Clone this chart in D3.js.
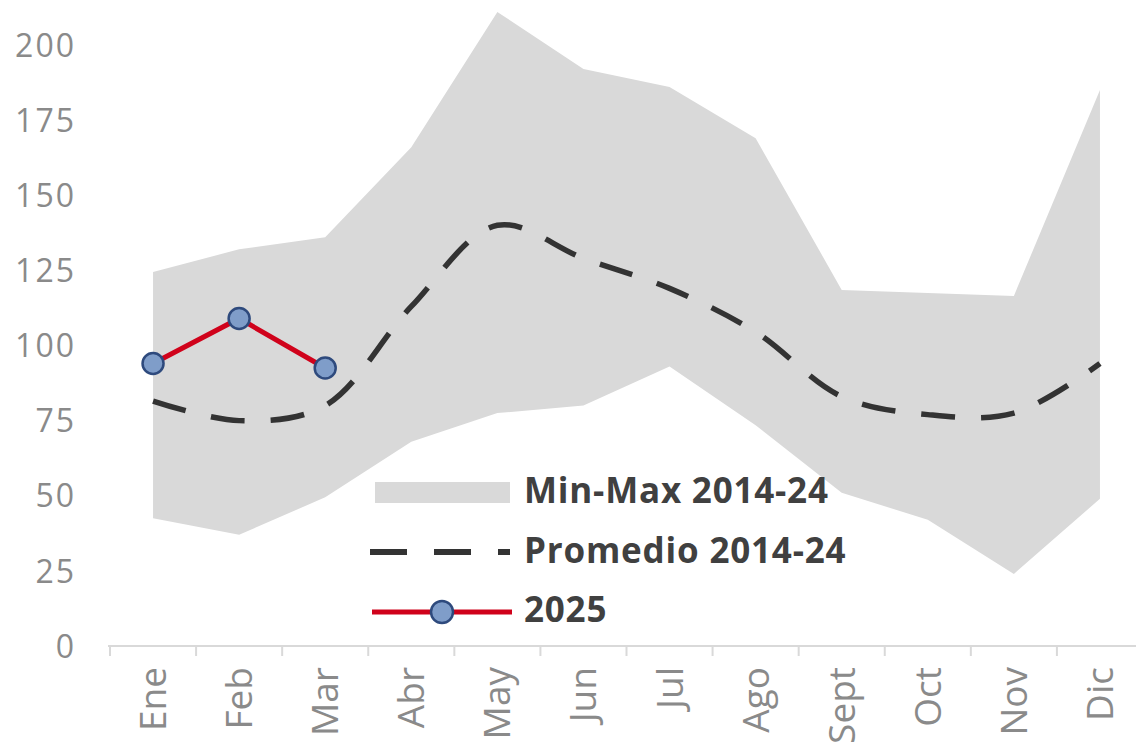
<!DOCTYPE html>
<html><head><meta charset="utf-8">
<script src="https://cdn.jsdelivr.net/npm/d3@7"></script>
<style>
html,body{margin:0;padding:0;background:#fff;}
svg{display:block;}
</style></head>
<body>
<svg id="chart" width="1136" height="746"></svg>
<script>
const months = ["Ene","Feb","Mar","Abr","May","Jun","Jul","Ago","Sept","Oct","Nov","Dic"];
const minVals = [42.5, 37, 49.5, 68, 77.5, 80, 93, 73.5, 51, 42, 24, 49];
const maxVals = [124.5, 132, 136, 166, 211, 192, 186, 169, 118.5, 117.5, 116.5, 185];
const avgVals = [81.5, 75, 80, 113, 140, 129, 119, 104.5, 83, 77, 77.5, 94];
const vals2025 = [94, 109, 92.5];
const yTicks = [0, 25, 50, 75, 100, 125, 150, 175, 200];
const legendLabels = ["Min-Max 2014-24", "Promedio 2014-24", "2025"];

const svg = d3.select("#chart");
const x = d3.scaleBand().domain(months).range([110, 1143]).padding(0);
const cx = d => x(d) + x.bandwidth() / 2;
const y = d3.scaleLinear().domain([0, 200]).range([646, 45]);

const FONT = "'Open Sans', Lato, sans-serif";

// band
const bandData = months.map((m, i) => ({m, lo: minVals[i], hi: maxVals[i]}));
svg.append("path")
  .datum(bandData)
  .attr("fill", "#d9d9d9")
  .attr("d", d3.area().x(d => cx(d.m)).y0(d => y(d.lo)).y1(d => y(d.hi)));

// x axis
const xAxis = d3.axisBottom(x).tickSize(0).tickFormat("");
const gx = svg.append("g").attr("transform", "translate(0,646)").call(xAxis);
gx.select(".domain").attr("stroke", "#d9d9d9").attr("stroke-width", 2).attr("d", "M108,0H1143");
const bounds = months.map(m => x(m)).concat([x(months[11]) + x.bandwidth()]);
gx.selectAll("line.bt").data(bounds).enter().append("line")
  .attr("class", "bt")
  .attr("x1", d => d).attr("x2", d => d)
  .attr("y1", 0).attr("y2", 10)
  .attr("stroke", "#d9d9d9").attr("stroke-width", 2);
svg.append("g").selectAll("text").data(months).enter().append("text")
  .attr("transform", d => `translate(${cx(d) + 13},667) rotate(-90)`)
  .attr("text-anchor", "end")
  .attr("font-family", FONT)
  .attr("font-size", 37)
  .attr("fill", "#8a8a8a")
  .text(d => d);

// y labels
const yAxis = d3.axisLeft(y).tickValues(yTicks).tickSize(0).tickPadding(0);
const gy = svg.append("g").attr("transform", "translate(76,0)").call(yAxis);
gy.select(".domain").remove();
gy.selectAll("text")
  .attr("font-family", FONT)
  .attr("font-size", 32)
  .attr("letter-spacing", 2)
  .attr("fill", "#8a8a8a")
  .attr("dy", "0.35em");

// average dashed
const avgData = months.map((m, i) => ({m, v: avgVals[i]}));
svg.append("path")
  .datum(avgData)
  .attr("fill", "none")
  .attr("stroke", "#333333")
  .attr("stroke-width", 5.5)
  .attr("stroke-dasharray", "34,26")
  .attr("d", d3.line().x(d => cx(d.m)).y(d => y(d.v)).curve(d3.curveCatmullRom.alpha(0.5)));

// 2025 line
const d2025 = vals2025.map((v, i) => ({m: months[i], v}));
svg.append("path")
  .datum(d2025)
  .attr("fill", "none")
  .attr("stroke", "#d0021b")
  .attr("stroke-width", 5)
  .attr("d", d3.line().x(d => cx(d.m)).y(d => y(d.v)));
svg.append("g").selectAll("circle").data(d2025).enter().append("circle")
  .attr("cx", d => cx(d.m)).attr("cy", d => y(d.v))
  .attr("r", 10.5)
  .attr("fill", "#7f9dc9")
  .attr("stroke", "#2e4a7d")
  .attr("stroke-width", 2.5);

// legend
const lg = svg.append("g");
lg.append("rect").attr("x", 375).attr("y", 482).attr("width", 135).attr("height", 21).attr("fill", "#d9d9d9");
lg.append("line").attr("x1", 370).attr("x2", 510).attr("y1", 552).attr("y2", 552)
  .attr("stroke", "#333333").attr("stroke-width", 6).attr("stroke-dasharray", "37,27");
lg.append("line").attr("x1", 372).attr("x2", 512).attr("y1", 612).attr("y2", 612)
  .attr("stroke", "#d0021b").attr("stroke-width", 5);
lg.append("circle").attr("cx", 442).attr("cy", 612).attr("r", 11)
  .attr("fill", "#7f9dc9").attr("stroke", "#2e4a7d").attr("stroke-width", 2.5);
lg.selectAll("text").data(legendLabels).enter().append("text")
  .attr("x", 524)
  .attr("y", (d, i) => [491, 551, 610][i])
  .attr("dy", "0.35em")
  .attr("font-family", FONT)
  .attr("font-weight", "bold")
  .attr("font-size", 35)
  .attr("letter-spacing", 0.8)
  .attr("fill", "#404040")
  .text(d => d);
</script>
</body></html>
